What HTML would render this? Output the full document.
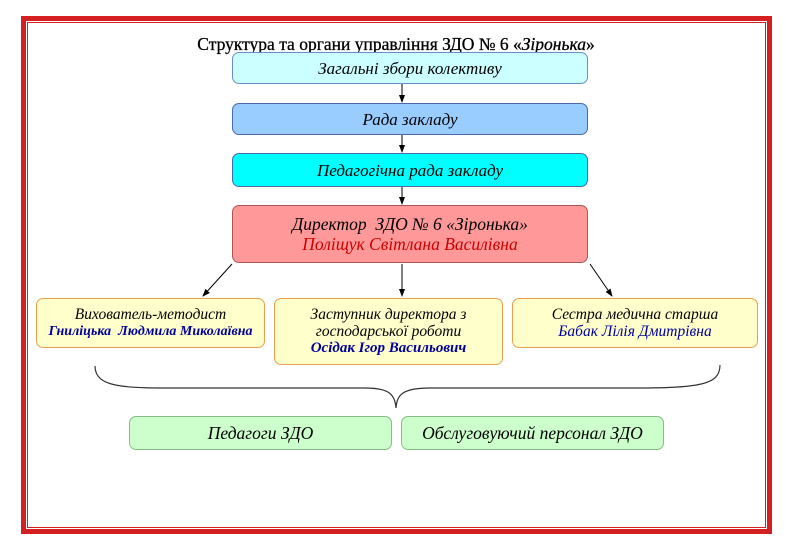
<!DOCTYPE html>
<html><head><meta charset="utf-8"><style>
body{margin:0;width:786px;height:550px;background:#fff;position:relative;overflow:hidden;font-family:"Liberation Serif",serif}
.b{position:absolute;box-sizing:border-box;border-radius:7px;text-align:center;font-style:italic;font-size:17px;line-height:17px;display:flex;flex-direction:column;justify-content:center;color:#000;white-space:nowrap}
.blu{color:#000099;font-weight:bold}
</style></head><body>
<div style="position:absolute;left:21px;top:16px;width:751px;height:518px;border:5px solid #d42020;box-sizing:border-box"></div>
<div style="position:absolute;left:27px;top:22px;width:739px;height:506px;border:1.5px solid #d42020;box-sizing:border-box"></div>
<div style="position:absolute;left:0;width:792px;top:35px;text-align:center;font-size:17.5px;line-height:18px;-webkit-text-stroke:0.3px #000">Структура та органи управління ЗДО № 6 «<i>Зіронька</i>»</div>
<svg style="position:absolute;left:0;top:0" width="786" height="550">
<defs><marker id="a" markerWidth="8" markerHeight="8" refX="7" refY="4" orient="auto"><path d="M0,1L8,4L0,7z" fill="#000"/></marker></defs>
<g stroke="#000" stroke-width="1" marker-end="url(#a)">
<line x1="402" y1="84" x2="402" y2="102"/>
<line x1="402" y1="135" x2="402" y2="152"/>
<line x1="402" y1="187" x2="402" y2="204"/>
<line x1="232" y1="264" x2="203" y2="296"/>
<line x1="402" y1="264" x2="402" y2="296"/>
<line x1="590" y1="264" x2="612" y2="296"/>
</g>
<path d="M95,366 C95,390 130,388 200,388 L365,388 C390,388 395,395 396,408 C397,395 402,388 430,388 L630,388 C700,388 720,385 720,365" fill="none" stroke="#333" stroke-width="1.2"/>
</svg>
<div class="b" style="left:232px;top:52px;width:356px;height:32px;background:#ccffff;border:1px solid #6a8ccc">Загальні збори колективу</div>
<div class="b" style="left:232px;top:103px;width:356px;height:32px;background:#99ccff;border:1px solid #4a6aaa">Рада закладу</div>
<div class="b" style="left:232px;top:153px;width:356px;height:34px;background:#00ffff;border:1px solid #4a6aaa">Педагогічна рада закладу</div>
<div class="b" style="left:232px;top:205px;width:356px;height:58px;background:#ff9999;border:1px solid #aa5555;font-size:17.5px;line-height:20px"><div>Директор&nbsp; ЗДО № 6 «Зіронька»</div><div style="color:#cc0000">Поліщук Світлана Василівна</div></div>
<div class="b" style="left:36px;top:298px;width:229px;height:50px;background:#ffffcc;border:1px solid #e8a050;font-size:15.5px"><div>Вихователь-методист</div><div class="blu" style="font-size:14px">Гниліцька&nbsp; Людмила Миколаївна</div></div>
<div class="b" style="left:274px;top:298px;width:229px;height:67px;background:#ffffcc;border:1px solid #e8a050;font-size:15.5px"><div>Заступник директора з</div><div>господарської роботи</div><div class="blu" style="font-size:15px">Осідак Ігор Васильович</div></div>
<div class="b" style="left:512px;top:298px;width:246px;height:50px;background:#ffffcc;border:1px solid #e8a050;font-size:15.5px"><div>Сестра медична старша</div><div class="blu" style="font-weight:normal">Бабак Лілія Дмитрівна</div></div>
<div class="b" style="left:129px;top:416px;width:263px;height:34px;background:#ccffcc;border:1px solid #88bb88;font-size:17.5px">Педагоги ЗДО</div>
<div class="b" style="left:401px;top:416px;width:263px;height:34px;background:#ccffcc;border:1px solid #88bb88;font-size:17.5px">Обслуговуючий персонал ЗДО</div>
</body></html>
